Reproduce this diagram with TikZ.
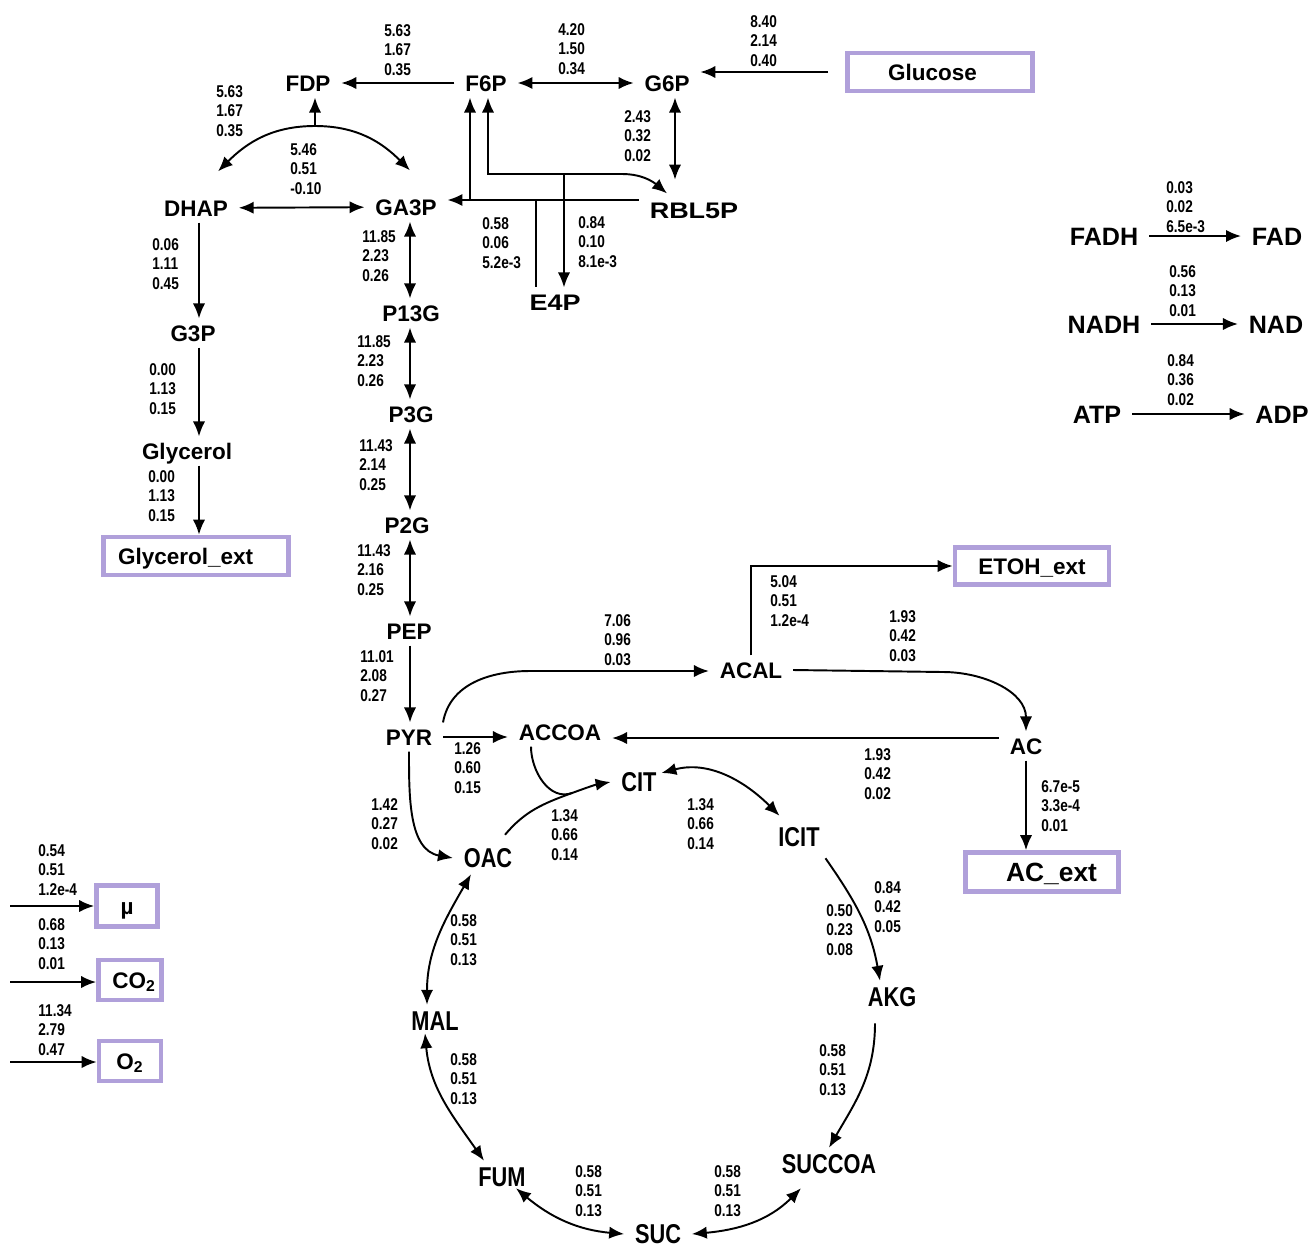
\documentclass[tikz,border=0pt]{standalone}
\usepackage{fontspec}
\setmainfont{Liberation Sans}
\newfontfamily\narrowfont{Liberation Sans}[FakeStretch=0.8]
\newfontfamily\widefont{Liberation Sans}[FakeStretch=1.2]
\usepackage{xcolor}
\usepackage{tikz}
\usetikzlibrary{arrows.meta}
\definecolor{boxlila}{RGB}{176,160,218}

\begin{document}
\begin{tikzpicture}[
    x=0.02cm, y=-0.02cm,
    met/.style={font=\bfseries\fontsize{12.8}{14}\selectfont, inner xsep=6pt,
        inner ysep=3.5pt, text height=9.2pt, text depth=0pt},
    widemet/.style={met, font=\widefont\bfseries\fontsize{12.8}{14}\selectfont},
    tca/.style={met, font=\narrowfont\bfseries\fontsize{15.5}{17}\selectfont,
        text height=11.1pt},
    cof/.style={met, font=\bfseries\fontsize{14.3}{16}\selectfont, text height=10.3pt},
    extbox/.style={draw=boxlila, line width=2.7pt, font=\bfseries\fontsize{12.8}{14}\selectfont,
        minimum width=3.7cm, minimum height=0.76cm, text height=9.2pt, text depth=0pt},
    flux/.style={font=\narrowfont\bfseries\fontsize{9.7}{11.3}\selectfont, align=left,
        anchor=west, inner sep=0pt},
    arr/.style={-{Latex[length=8.5pt,width=7pt]}, line width=1.1pt},
    darr/.style={{Latex[length=8.5pt,width=7pt]}-{Latex[length=8.5pt,width=7pt]}, line width=1.1pt}
]
    \useasboundingbox (0,0) rectangle (1311,1248);

    \node[met] (FDP) at (308,83) {FDP};
    \node[met] (F6P) at (486,83) {F6P};
    \node[met] (G6P) at (667,83) {G6P};
    \node[extbox, text width=2.08cm, inner xsep=0.81cm, align=left] (Glucose) at (940,72) {Glucose};
    \node[met] (DHAP) at (196,208) {DHAP};
    \node[met] (GA3P) at (406,207) {GA3P};
    \node[widemet] (RBL5P) at (694,210) {RBL5P};
    \node[widemet] (E4P) at (555,302) {E4P};
    \node[met] (G3P) at (193,333) {G3P};
    \node[met] (Glycerol) at (187,451) {Glycerol};
    \node[extbox, text width=3.12cm, inner xsep=0.29cm, align=left] (Glyext) at (196,556) {Glycerol\_ext};
    \node[met] (P13G) at (411,313) {P13G};
    \node[met] (P3G) at (411,414) {P3G};
    \node[met] (P2G) at (407,525) {P2G};
    \node[met] (PEP) at (409,631) {PEP};
    \node[met] (PYR) at (409,737) {PYR};
    \node[met] (ACCOA) at (560,732) {ACCOA};
    \node[met] (ACAL) at (751,670) {ACAL};
    \node[extbox, minimum width=3.08cm, minimum height=0.74cm] (ETOHext) at (1032,566) {ETOH\_ext};
    \node[met] (AC) at (1026,746) {AC};
    \node[extbox, minimum width=3.06cm, minimum height=0.78cm, text width=2.2cm, inner xsep=0.43cm,
        align=right, font=\bfseries\fontsize{15}{16}\selectfont, text height=10.7pt] (ACext) at (1042,872) {AC\_ext};
    \node[tca] (CIT) at (639,782) {CIT};
    \node[tca] (ICIT) at (799,837) {ICIT};
    \node[tca] (OAC) at (488,858) {OAC};
    \node[tca] (AKG) at (892,997) {AKG};
    \node[tca] (MAL) at (435,1021) {MAL};
    \node[tca] (SUCCOA) at (829,1164) {SUCCOA};
    \node[tca] (FUM) at (502,1177) {FUM};
    \node[tca] (SUC) at (658,1234) {SUC};
    \node[cof] (FADH) at (1104,236) {FADH};
    \node[cof] (FAD) at (1277,236) {FAD};
    \node[cof] (NADH) at (1104,324) {NADH};
    \node[cof] (NAD) at (1276,324) {NAD};
    \node[cof] (ATP) at (1097,414) {ATP};
    \node[cof] (ADP) at (1282,414) {ADP};
    \node[extbox, minimum width=1.22cm, minimum height=0.82cm] (mu) at (127,906) {µ};
    \node[extbox, minimum width=1.24cm, minimum height=0.8cm] (CO2) at (130,980) {\hspace*{0.16cm}CO\textsubscript{2}};
    \node[extbox, minimum width=1.24cm, minimum height=0.8cm] (O2) at (130,1061) {O\textsubscript{2}};

    \node[flux] (vPFK) at (384,50) {5.63\\1.67\\0.35};
    \node[flux] (vPGI) at (558,49) {4.20\\1.50\\0.34};
    \node[flux] (vPTS) at (750,41) {8.40\\2.14\\0.40};
    \node[flux] (vALDO) at (216,111) {5.63\\1.67\\0.35};
    \node[flux] (vTPI) at (290,169) {5.46\\0.51\\-0.10};
    \node[flux] (vG6PDH) at (624,136) {2.43\\0.32\\0.02};
    \node[flux] (vTKa) at (482,243) {0.58\\0.06\\5.2e-3};
    \node[flux] (vTKb) at (578,242) {0.84\\0.10\\8.1e-3};
    \node[flux] (vGPD) at (152,264) {0.06\\1.11\\0.45};
    \node[flux] (vGPP) at (149,389) {0.00\\1.13\\0.15};
    \node[flux] (vGLYout) at (148,496) {0.00\\1.13\\0.15};
    \node[flux] (vGAPDH) at (362,256) {11.85\\2.23\\0.26};
    \node[flux] (vPGK) at (357,361) {11.85\\2.23\\0.26};
    \node[flux] (vPGM) at (359,465) {11.43\\2.14\\0.25};
    \node[flux] (vENO) at (357,570) {11.43\\2.16\\0.25};
    \node[flux] (vPYK) at (360,676) {11.01\\2.08\\0.27};
    \node[flux] (vPDC) at (604,640) {7.06\\0.96\\0.03};
    \node[flux] (vADH) at (770,601) {5.04\\0.51\\1.2e-4};
    \node[flux] (vALDH) at (889,636) {1.93\\0.42\\0.03};
    \node[flux] (vPDH) at (454,768) {1.26\\0.60\\0.15};
    \node[flux] (vACS) at (864,774) {1.93\\0.42\\0.02};
    \node[flux] (vACout) at (1041,806) {6.7e-5\\3.3e-4\\0.01};
    \node[flux] (vPYC) at (371,824) {1.42\\0.27\\0.02};
    \node[flux] (vCS) at (551,835) {1.34\\0.66\\0.14};
    \node[flux] (vACN) at (687,824) {1.34\\0.66\\0.14};
    \node[flux] (vICDHa) at (874,907) {0.84\\0.42\\0.05};
    \node[flux] (vICDHb) at (826,930) {0.50\\0.23\\0.08};
    \node[flux] (vMDH) at (450,940) {0.58\\0.51\\0.13};
    \node[flux] (vAKGDH) at (819,1070) {0.58\\0.51\\0.13};
    \node[flux] (vFUMR) at (450,1079) {0.58\\0.51\\0.13};
    \node[flux] (vSDH) at (575,1191) {0.58\\0.51\\0.13};
    \node[flux] (vSCS) at (714,1191) {0.58\\0.51\\0.13};
    \node[flux] (vFAD) at (1166,207) {0.03\\0.02\\6.5e-3};
    \node[flux] (vNAD) at (1169,291) {0.56\\0.13\\0.01};
    \node[flux] (vATP) at (1167,380) {0.84\\0.36\\0.02};
    \node[flux] (vmu) at (38,870) {0.54\\0.51\\1.2e-4};
    \node[flux] (vCO2) at (38,944) {0.68\\0.13\\0.01};
    \node[flux] (vO2) at (38,1030) {11.34\\2.79\\0.47};

    \coordinate (ald) at (315,126);
    \coordinate (xg) at (675,0);
    \coordinate (xgl) at (199,0);
    \coordinate (xgy) at (410,0);
    \coordinate (tkA) at (470,200);
    \coordinate (tkB) at (488,174);
    \coordinate (tkC) at (622,174);
    \coordinate (tkD) at (564,174);
    \coordinate (tkE) at (536,200);
    \coordinate (pdc) at (530,671);
    \coordinate (ald2) at (943,672);
    \coordinate (acs) at (0,738);
    \coordinate (cs) at (572,793);
    \coordinate (mu0) at (10,906);
    \coordinate (co0) at (10,982);
    \coordinate (o0) at (10,1062);

    \draw[arr] (F6P) -- (FDP);
    \draw[darr] (F6P) -- (G6P);
    \draw[arr] ([xshift=-0.34cm]Glucose.west) -- (Glucose.west -| G6P.east);
    \draw[arr] (ald) -- (ald |- FDP.south);
    \draw[arr] (ald) to[out=180,in=45] ([shift={(22,-22)}]DHAP.north);
    \draw[arr] (ald) to[out=0,in=135] ([shift={(4,-22)}]GA3P.north);
    \draw[darr] (DHAP) -- (GA3P);

    \draw[darr, shorten >=9pt] (G6P.south -| xg) -- (RBL5P.north -| xg);
    \draw[arr] (RBL5P.west |- tkA) -- (GA3P.east |- tkA);
    \draw[arr] (tkA) -- (tkA |- F6P.south);
    \draw[arr] (tkC) -- (tkB) -- (tkB |- F6P.south);
    \draw[arr] (tkC) to[out=0,in=140] ([shift={(-27,-2)}]RBL5P.north);
    \draw[arr] (tkD) -- (tkD |- E4P.north);
    \draw[line width=1.1pt] (tkE) -- (tkE |- E4P.north);

    \draw[arr] (DHAP.south -| xgl) -- (G3P.north -| xgl);
    \draw[arr] (G3P.south -| xgl) -- (Glycerol.north -| xgl);
    \draw[arr] (Glycerol.south -| xgl) -- (Glyext.north -| xgl);

    \draw[darr] (GA3P.south -| xgy) -- (P13G.north -| xgy);
    \draw[darr] (P13G.south -| xgy) -- (P3G.north -| xgy);
    \draw[darr] (P3G.south -| xgy) -- (P2G.north -| xgy);
    \draw[darr] (P2G.south -| xgy) -- (PEP.north -| xgy);
    \draw[arr] (PEP.south -| xgy) -- (PYR.north -| xgy);

    \draw[arr] (PYR.east) -- (PYR.east -| ACCOA.west);
    \draw[arr] (PYR.north east) to[out=80,in=180] (pdc) -- (ACAL.west |- pdc);
    \draw[arr] (ACAL.north) |- (ETOHext.west);
    \draw[arr] (ACAL.east) -- (ald2) to[out=0,in=90] (AC.north);
    \draw[arr] (AC.west |- acs) -- (ACCOA.east |- acs);
    \draw[arr] (AC.south) -- (AC.south |- ACext.north);

    \draw[arr] (PYR.south) to[out=-90,in=170] (OAC.west);
    \draw[arr] ([shift={(17,-7)}]OAC.north) to[out=50,in=200] (cs) to[out=20,in=190] (CIT.west);
    \draw[line width=1.1pt] ([shift={(-29,0)}]ACCOA.south) to[out=-90,in=200] (cs);
    \draw[darr] ([shift={(-6,-9)}]CIT.east) to[out=15,in=135] ([shift={(12,-5)}]ICIT.north west);
    \draw[arr] ([shift={(-5,5)}]ICIT.south east) to[out=-55,in=100] ([shift={(-12,0)}]AKG.north);
    \draw[arr] ([shift={(-17,10)}]AKG.south) to[out=-90,in=60] (SUCCOA.north);
    \draw[darr] (SUC.east) to[out=5,in=-135] ([shift={(-28,8)}]SUCCOA.south);
    \draw[darr] ([shift={(14,-5)}]FUM.south) to[out=-40,in=175] (SUC.west);
    \draw[darr] ([shift={(-10,-4)}]MAL.south) to[out=-85,in=125] ([shift={(-18,0)}]FUM.north);
    \draw[darr] ([shift={(-8,0)}]MAL.north) to[out=90,in=-120] ([shift={(-17,0)}]OAC.south);

    \draw[arr] (FADH) -- (FAD);
    \draw[arr] (NADH) -- (NAD);
    \draw[arr] (ATP) -- (ADP);
    \draw[arr] (mu0) -- (mu0 -| mu.west);
    \draw[arr] (co0) -- (co0 -| CO2.west);
    \draw[arr] (o0) -- (o0 -| O2.west);
\end{tikzpicture}
\end{document}
